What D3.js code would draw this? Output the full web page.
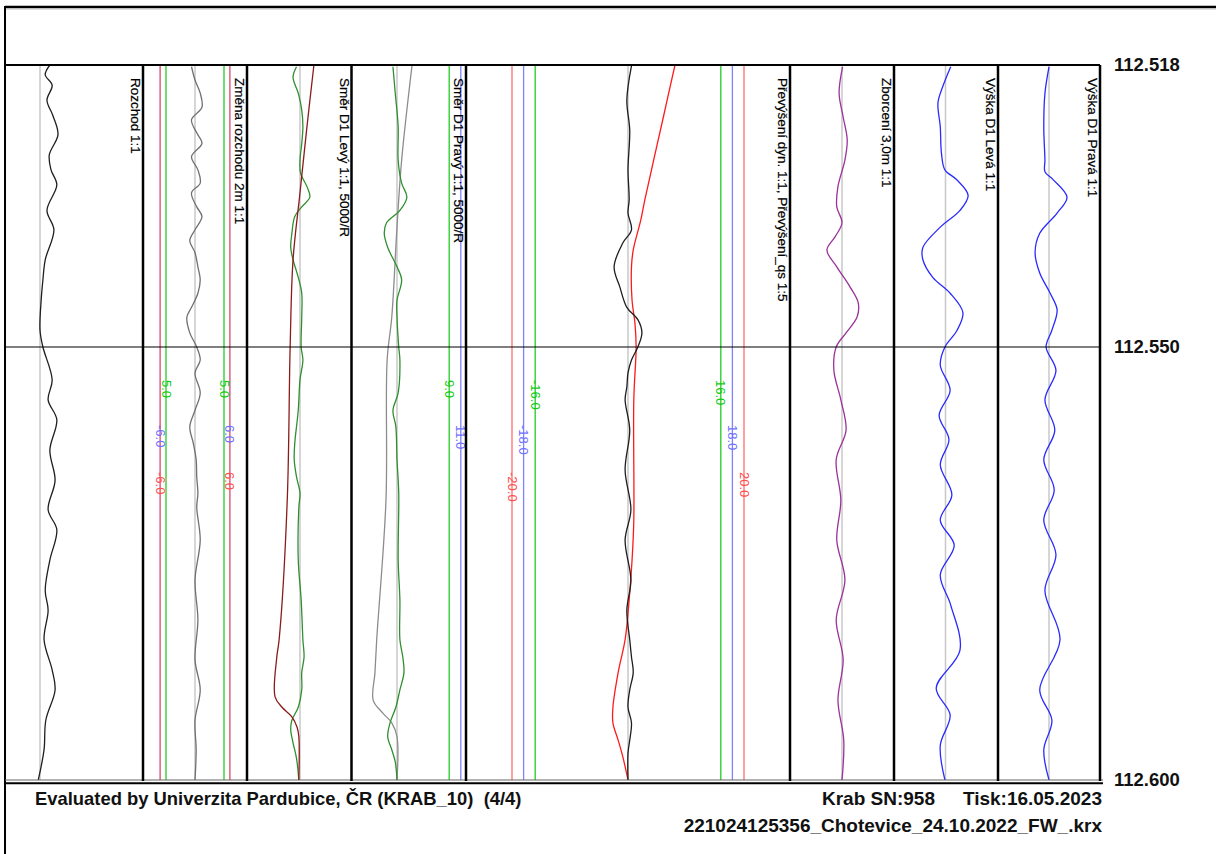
<!DOCTYPE html>
<html><head><meta charset="utf-8">
<script src="https://cdn.jsdelivr.net/npm/d3@7/dist/d3.min.js"></script>
<style>
html,body{margin:0;padding:0;background:#fff;}
svg{display:block;font-family:"Liberation Sans",Arial,sans-serif;}
</style></head><body>
<svg id="chart" width="1229" height="854"></svg>
<script>
// ---------------- DATA ----------------
const kmTicks = [112.518, 112.550, 112.600];
const panelTitles = ["Rozchod 1:1", "Změna rozchodu 2m 1:1", "Směr D1 Levý 1:1, 5000/R",
  "Směr D1 Pravý 1:1, 5000/R", "Převýšení dyn. 1:1, Převýšení_qs 1:5",
  "Zborcení 3,0m 1:1", "Výška D1 Levá 1:1", "Výška D1 Pravá 1:1"];

// [km, value]
const rozchod = [[112.5180,1.7],[112.5191,0.9],[112.5203,2.1],[112.5220,1.2],[112.5237,2.2],[112.5259,3.1],[112.5282,1.6],[112.5299,1.9],[112.5316,2.9],[112.5345,1.2],[112.5367,2.4],[112.5401,0.9],[112.5424,0.5],[112.5447,0.2],[112.5481,0.0],[112.5500,0.5],[112.5538,2.1],[112.5561,1.4],[112.5584,2.9],[112.5619,1.7],[112.5654,2.6],[112.5688,1.4],[112.5711,2.9],[112.5746,1.7],[112.5781,0.9],[112.5804,1.4],[112.5838,0.7],[112.5873,2.1],[112.5896,2.6],[112.5931,1.0],[112.5965,0.7],[112.6000,-0.3]];

const zmenaRozchodu = [[112.5182,-0.6],[112.5197,0],[112.5212,0.9],[112.5228,1.2],[112.5242,-0.6],[112.5257,0.3],[112.5269,1.2],[112.5284,-0.6],[112.5299,0.5],[112.5314,0.9],[112.5325,-0.6],[112.5341,0.3],[112.5352,1.2],[112.5367,0],[112.5379,-0.9],[112.5393,0],[112.5409,0.5],[112.5424,0.9],[112.5439,0.5],[112.5455,-0.6],[112.5466,-1.4],[112.5484,-0.9],[112.5500,0.3],[112.5515,0.9],[112.5530,0],[112.5553,0.9],[112.5573,0],[112.5592,-0.9],[112.5611,-0.3],[112.5630,0.2],[112.5650,0.3],[112.5669,0.5],[112.5685,0.3],[112.5723,0.9],[112.5769,0],[112.5815,0.5],[112.5861,0],[112.5896,0.9],[112.5931,0],[112.5965,0.2],[112.6000,0]];

const smerLevy = [[112.5182,-0.6],[112.5194,-1.2],[112.5212,-0.3],[112.5231,0.3],[112.5250,0.5],[112.5269,0.3],[112.5288,0],[112.5303,0.1],[112.5318,1.2],[112.5330,1.7],[112.5341,0.3],[112.5352,-0.9],[112.5371,-1.4],[112.5387,-1.6],[112.5401,-1.2],[112.5421,-0.3],[112.5439,0.3],[112.5466,0.3],[112.5500,0.2],[112.5515,0.5],[112.5538,0],[112.5573,-0.3],[112.5611,-0.9],[112.5630,-1.0],[112.5650,-0.6],[112.5669,0],[112.5685,-0.2],[112.5746,-0.3],[112.5792,0.2],[112.5838,0.5],[112.5858,0.7],[112.5876,0.3],[112.5896,0.3],[112.5916,-0.3],[112.5931,-1.4],[112.5942,-1.6],[112.5957,-1.2],[112.5975,-0.6],[112.6000,-0.2]];

const smerLevyTeor = [[112.5180,2.4],[112.5250,1.2],[112.5325,0],[112.5401,-1.2],[112.5500,-1.7],[112.5677,-2.2],[112.5838,-3.6],[112.5858,-4.0],[112.5904,-4.3],[112.5916,-3.1],[112.5927,-1.4],[112.5939,-0.5],[112.5950,-0.2],[112.6000,-0.2]];

const smerPravy = [[112.5182,-0.7],[112.5212,-0.3],[112.5250,0.2],[112.5288,0.2],[112.5314,0.8],[112.5330,1.7],[112.5345,0.5],[112.5359,-1.8],[112.5371,-2.2],[112.5387,-1.6],[112.5409,0],[112.5424,0.8],[112.5447,0],[112.5466,0],[112.5500,0.3],[112.5515,0.5],[112.5553,0.2],[112.5573,-0.7],[112.5592,-0.2],[112.5630,0],[112.5669,0.3],[112.5746,0.2],[112.5792,0.5],[112.5838,0.5],[112.5858,1.0],[112.5876,1.2],[112.5896,0.5],[112.5916,-0.2],[112.5934,-1.2],[112.5950,-1.6],[112.5965,-0.9],[112.5979,-0.3],[112.6000,0]];

const smerPravyTeor = [[112.5180,2.6],[112.5288,0.8],[112.5364,0],[112.5466,-0.9],[112.5515,-1.7],[112.5677,-1.9],[112.5838,-3.5],[112.5876,-3.8],[112.5908,-4.1],[112.5923,-2.4],[112.5934,-0.9],[112.5950,0],[112.6000,0]];

const prevyseniDyn = [[112.5181,0.6],[112.5220,-0.2],[112.5254,0.3],[112.5299,0],[112.5333,0.2],[112.5348,0],[112.5367,0.6],[112.5382,-0.9],[112.5409,-2.4],[112.5432,-1.4],[112.5455,-0.2],[112.5469,1.7],[112.5484,2.4],[112.5500,1.7],[112.5515,0.6],[112.5530,0],[112.5546,-0.2],[112.5561,-0.5],[112.5596,0.3],[112.5642,-0.5],[112.5688,0.5],[112.5723,-0.5],[112.5769,0.5],[112.5804,-0.2],[112.5838,0.3],[112.5858,0.6],[112.5876,0.9],[112.5896,0.3],[112.5916,0],[112.5934,0.6],[112.5954,0.3],[112.5969,0],[112.6000,0]];

const prevyseniQs = [[112.5180,8.1],[112.5239,6.1],[112.5333,2.9],[112.5356,2.2],[112.5390,0.9],[112.5409,0.6],[112.5447,0.7],[112.5473,1.2],[112.5500,1.4],[112.5561,1.0],[112.5700,1.0],[112.5746,0.7],[112.5792,0.2],[112.5838,-0.5],[112.5876,-1.7],[112.5916,-2.6],[112.5934,-2.6],[112.5954,-1.7],[112.5973,-0.9],[112.6000,0]];

const zborceni = [[112.5182,0.1],[112.5212,-0.5],[112.5239,0.2],[112.5265,0.9],[112.5288,0.5],[112.5318,-0.7],[112.5341,-0.9],[112.5359,0],[112.5375,-1.2],[112.5390,-2.6],[112.5409,-0.9],[112.5432,1.4],[112.5450,2.8],[112.5466,2.6],[112.5484,0.7],[112.5500,-1.0],[112.5527,-1.4],[112.5561,-0.2],[112.5596,0.7],[112.5630,-1.0],[112.5677,-0.2],[112.5723,-0.9],[112.5769,0.5],[112.5815,-1.0],[112.5861,0.2],[112.5908,-0.7],[112.5954,0.3],[112.6000,0]];

const vyskaLeva = [[112.5182,0.9],[112.5205,-0.5],[112.5223,-1.3],[112.5250,-0.9],[112.5280,-0.7],[112.5299,-0.1],[112.5310,1.9],[112.5328,3.9],[112.5345,2.5],[112.5364,-0.9],[112.5387,-3.9],[112.5401,-3.9],[112.5421,-2.2],[112.5439,0.8],[112.5461,3.0],[112.5481,2.0],[112.5500,-0.1],[112.5521,-0.9],[112.5550,0.8],[112.5579,-1.1],[112.5607,0.6],[112.5636,-0.9],[112.5671,1.1],[112.5700,-0.9],[112.5729,1.5],[112.5763,-0.9],[112.5798,0.9],[112.5850,2.5],[112.5894,-1.6],[112.5925,0.8],[112.5960,-0.9],[112.6000,-0.1]];

const vyskaPrava = [[112.5182,0],[112.5212,-0.7],[112.5250,-0.9],[112.5288,-0.7],[112.5301,-0.7],[112.5310,0.7],[112.5330,3.1],[112.5348,1.4],[112.5371,-1.6],[112.5393,-2.4],[112.5416,-1.6],[112.5439,0.2],[112.5458,1.4],[112.5481,0.5],[112.5500,-0.5],[112.5527,1.2],[112.5561,-0.7],[112.5596,1.0],[112.5630,-0.9],[112.5665,0.9],[112.5700,-0.9],[112.5740,1.2],[112.5781,-0.7],[112.5838,1.9],[112.5896,-1.6],[112.5931,0.5],[112.5965,-0.9],[112.6000,0]];

// limits: value, level (1 = green, 2 = blue, 3 = red), label
const limitsZmena = [[-6,2,"-6.0"],[6,2,"6.0"],[-5,1,"5.0"],[5,1,"5.0"],[-6,3,"-6.0"],[6,3,"6.0"]];
const limitsSmerPravy = [[9,1,"9.0"],[11,2,"11.0"]];
const limitsPrevyseni = [[-18,2,"-18.0"],[18,2,"18.0"],[-16,1,"-16.0"],[16,1,"16.0"],[-20,3,"-20.0"],[20,3,"20.0"]];

const footerLeft = "Evaluated by Univerzita Pardubice, ČR (KRAB_10)  (4/4)";
const footerSN = "Krab SN:958";
const footerTisk = "Tisk:16.05.2023";
const footerFile = "221024125356_Chotevice_24.10.2022_FW_.krx";

// ---------------- LAYOUT ----------------
const panelEdges = [5, 143, 247, 351.5, 466, 790, 894, 998, 1100];
const panelCenters = [40, 195, 300, 397, 628, 842, 945.5, 1049];
const pxPerUnit = 5.8;
const yTop = 65, yMid = 347, yBot = 780;

const svg = d3.select("#chart");
const y = d3.scaleLinear().domain(kmTicks).range([yTop, yMid, yBot]);

const xScales = panelCenters.map((c, i) => {
  const l = panelEdges[i], r = panelEdges[i + 1];
  return d3.scaleLinear().domain([(l - c) / pxPerUnit, (r - c) / pxPerUnit]).range([l, r]);
});

const defs = svg.append("defs");
panelCenters.forEach((c, i) => {
  defs.append("clipPath").attr("id", "clip" + i).append("rect")
    .attr("x", panelEdges[i]).attr("y", yTop)
    .attr("width", panelEdges[i + 1] - panelEdges[i]).attr("height", yBot - yTop);
});

// frame
svg.append("line").attr("x1", 5).attr("x2", 1216).attr("y1", 7).attr("y2", 7).attr("stroke", "#000").attr("stroke-width", 2.5);
svg.append("line").attr("x1", 5).attr("x2", 1216).attr("y1", 9).attr("y2", 9).attr("stroke", "#bbb").attr("stroke-width", 1);
svg.append("line").attr("x1", 5).attr("x2", 5).attr("y1", 6).attr("y2", 854).attr("stroke", "#000").attr("stroke-width", 2);

const limitColor = {1: "#22cc22", 2: "#8080ff", 3: "#ff6c6c"};
const limitText = {1: "#11cc11", 2: "#7070ff", 3: "#ff5050"};
const limitLabelY = {1: 380, 2: 425, 3: 472};

const panelsG = svg.append("g");

function panel(i) {
  return panelsG.append("g").attr("clip-path", "url(#clip" + i + ")");
}

// center reference lines
const pg = panelCenters.map((c, i) => panel(i));
pg.forEach((g, i) => {
  g.append("line").attr("x1", xScales[i](0)).attr("x2", xScales[i](0))
    .attr("y1", yTop).attr("y2", yBot).attr("stroke", "#c8c8c8").attr("stroke-width", 1.5);
});

function drawLimits(i, limits) {
  const g = pg[i], xs = xScales[i];
  limits.forEach(([v, lvl]) => {
    g.append("line").attr("x1", xs(v)).attr("x2", xs(v)).attr("y1", yTop).attr("y2", yBot)
      .attr("stroke", limitColor[lvl]).attr("stroke-width", 1.3);
  });
  limits.forEach(([v, lvl, t]) => {
    g.append("text").attr("transform", `translate(${xs(v) - 4.5},${limitLabelY[lvl]}) rotate(90)`)
      .attr("font-size", 13).attr("fill", limitText[lvl]).text(t);
  });
}
drawLimits(1, limitsZmena);
drawLimits(3, limitsSmerPravy);
drawLimits(4, limitsPrevyseni);

const series = [
  [0, rozchod, "#1e1e1e"],
  [1, zmenaRozchodu, "#707070"],
  [2, smerLevy, "#2f8f2f"],
  [2, smerLevyTeor, "#8b1a1a"],
  [3, smerPravyTeor, "#8c8c8c"],
  [3, smerPravy, "#2f8f2f"],
  [4, prevyseniQs, "#ff1a1a"],
  [4, prevyseniDyn, "#1e1e1e"],
  [5, zborceni, "#9a3399"],
  [6, vyskaLeva, "#2a2aff"],
  [7, vyskaPrava, "#2a2aff"]
];
series.forEach(([i, data, col]) => {
  const line = d3.line().x(d => xScales[i](d[1])).y(d => y(d[0])).curve(d3.curveCatmullRom.alpha(0.5));
  pg[i].append("path").datum(data).attr("d", line).attr("fill", "none")
    .attr("stroke", col).attr("stroke-width", 1.3);
});

// horizontal lines
svg.append("line").attr("x1", 5).attr("x2", 1100).attr("y1", y(kmTicks[0])).attr("y2", y(kmTicks[0])).attr("stroke", "#000").attr("stroke-width", 2.2);
svg.append("line").attr("x1", 5).attr("x2", 1100).attr("y1", y(kmTicks[1])).attr("y2", y(kmTicks[1])).attr("stroke", "#000").attr("stroke-width", 1.2);
svg.append("line").attr("x1", 5).attr("x2", 1103).attr("y1", y(kmTicks[2])).attr("y2", y(kmTicks[2])).attr("stroke", "#666").attr("stroke-width", 1);
svg.append("line").attr("x1", 5).attr("x2", 1103).attr("y1", y(kmTicks[2]) + 3.3).attr("y2", y(kmTicks[2]) + 3.3).attr("stroke", "#000").attr("stroke-width", 2);

// panel borders
panelEdges.slice(1).forEach(x => {
  svg.append("line").attr("x1", x).attr("x2", x).attr("y1", yTop).attr("y2", yBot + 1)
    .attr("stroke", "#000").attr("stroke-width", 2.5);
});

// titles
panelTitles.forEach((t, i) => {
  svg.append("text").attr("transform", `translate(${panelEdges[i + 1] - 12},78) rotate(90)`)
    .attr("font-size", 13.5).attr("fill", "#000").attr("stroke", "#000").attr("stroke-width", 0.2).text(t);
});

// km axis
const axis = d3.axisRight(y).tickValues(kmTicks).tickSize(0).tickPadding(14).tickFormat(d3.format(".3f"));
const ag = svg.append("g").attr("transform", "translate(1100,0)").call(axis);
ag.select(".domain").remove();
ag.selectAll("text").attr("font-size", 18.5).attr("font-weight", "bold").attr("fill", "#111")
  .attr("font-family", '"Liberation Sans",Arial,sans-serif');

// footer
const ft = svg.append("g").attr("font-weight", "bold").attr("fill", "#111");
ft.append("text").attr("x", 35).attr("y", 805).attr("font-size", 18.4).attr("xml:space", "preserve").style("white-space", "pre").text(footerLeft);
ft.append("text").attr("x", 935).attr("y", 805).attr("font-size", 19).attr("text-anchor", "end").text(footerSN);
ft.append("text").attr("x", 1102).attr("y", 805).attr("font-size", 19).attr("text-anchor", "end").text(footerTisk);
ft.append("text").attr("x", 1102).attr("y", 832).attr("font-size", 19).attr("text-anchor", "end").text(footerFile);
</script>
</body></html>
